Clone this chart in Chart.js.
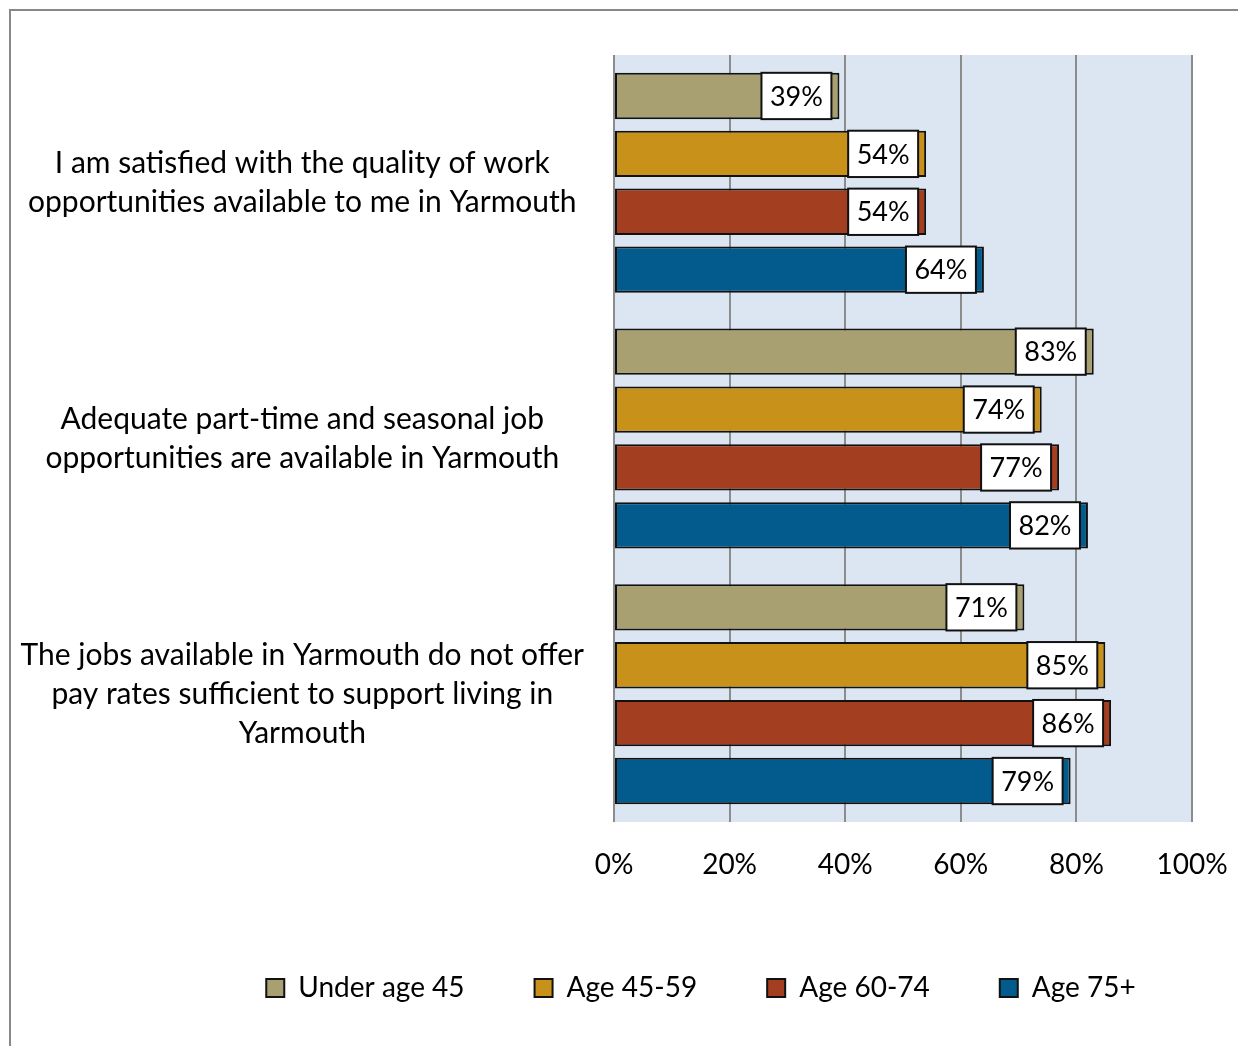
<!DOCTYPE html>
<html>
<head>
<meta charset="utf-8">
<script src="https://cdn.jsdelivr.net/npm/chart.js@4/dist/chart.umd.min.js"></script>
<style>
	html, body { margin: 0; padding: 0; background: #fff; overflow: hidden; }
	#frame {
		position: absolute; left: 9px; top: 9px;
		width: 1380px; height: 1100px;
		border: 2px solid #888;
	}
</style>
</head>
<body>
<div id="frame"><canvas id="bar-chart" width="1380" height="1100"></canvas></div>
<script>
	const categories = [
		['I am satisfied with the quality of work', 'opportunities available to me in Yarmouth'],
		['Adequate part-time and seasonal job', 'opportunities are available in Yarmouth'],
		['The jobs available in Yarmouth do not offer', 'pay rates sufficient to support living in', 'Yarmouth'],
	]
	const seriesNames = ['Under age 45', 'Age 45-59', 'Age 60-74', 'Age 75+']
	const under45 = [39, 83, 71]
	const age45to59 = [54, 74, 85]
	const age60to74 = [54, 77, 86]
	const age75plus = [64, 82, 79]
	const xTicks = [0, 20, 40, 60, 80, 100]

	const colors = ['#a8a070', '#c8911a', '#a33e20', '#035b8d']
	const FONT = 'Lato'

	// light blue plot background
	const plotBg = {
		id: 'plotBg',
		beforeDraw(chart) {
			const { ctx, chartArea: a } = chart
			ctx.save()
			ctx.fillStyle = '#dce6f2'
			ctx.fillRect(a.left, a.top, a.right - a.left, a.bottom - a.top)
			ctx.restore()
		},
	}

	// legend is centred on the whole frame, not just the padded area
	const wideLegend = {
		id: 'wideLegend',
		afterLayout(chart) {
			chart.legend.right = chart.width
			chart.legend.width = chart.width - chart.legend.left
		},
	}

	// white boxed value labels sitting just inside the end of each bar
	const valueBoxes = {
		id: 'valueBoxes',
		afterDatasetsDraw(chart) {
			const ctx = chart.ctx
			ctx.save()
			ctx.font = '27px ' + FONT
			ctx.textAlign = 'center'
			ctx.textBaseline = 'middle'
			chart.data.datasets.forEach((ds, i) => {
				chart.getDatasetMeta(i).data.forEach((bar, j) => {
					const txt = ds.data[j] + '%'
					const w = ctx.measureText(txt).width + 17
					const h = bar.height
					const right = bar.x - 8
					const top = bar.y - h / 2
					ctx.fillStyle = '#fff'
					ctx.fillRect(right - w, top, w, h)
					ctx.lineWidth = 2
					ctx.strokeStyle = '#111'
					ctx.strokeRect(right - w, top, w, h)
					ctx.fillStyle = '#000'
					ctx.fillText(txt, right - w / 2, bar.y + 1)
				})
			})
			ctx.restore()
		},
	}

	const seriesData = [under45, age45to59, age60to74, age75plus]

	new Chart(document.getElementById('bar-chart'), {
		type: 'bar',
		data: {
			labels: categories,
			datasets: seriesData.map((d, i) => ({
				label: seriesNames[i],
				data: d,
				backgroundColor: colors[i],
				borderColor: '#111',
				borderWidth: 2,
				borderSkipped: false,
				barPercentage: 0.8,
				categoryPercentage: 0.906,
			})),
		},
		options: {
			indexAxis: 'y',
			responsive: false,
			animation: false,
			layout: { padding: { top: 44, left: 0, right: 199, bottom: 99 } },
			scales: {
				x: {
					min: 0,
					max: 100,
					afterBuildTicks: (scale) => { scale.ticks = xTicks.map(v => ({ value: v })) },
					afterFit: (scale) => { scale.height = 82 },
					grid: { color: '#8c8c8c', lineWidth: 2, drawTicks: false },
					border: { display: false },
					ticks: {
						padding: 26,
						color: '#000',
						font: { family: FONT, size: 28 },
						callback: v => v + '%',
					},
				},
				y: {
					afterFit: (scale) => {
						scale.width = 603
						scale.paddingTop = 0
						scale.paddingBottom = 0
					},
					grid: { display: false },
					border: { display: false },
					ticks: {
						crossAlign: 'center',
						padding: 22,
						color: '#000',
						font: { family: FONT, size: 30, lineHeight: 1.3 },
					},
				},
			},
			plugins: {
				legend: {
					position: 'bottom',
					labels: {
						boxWidth: 18,
						boxHeight: 18,
						padding: 70,
						color: '#000',
						font: { family: FONT, size: 28 },
					},
				},
				tooltip: { enabled: false },
			},
		},
		plugins: [plotBg, wideLegend, valueBoxes],
	})
</script>
</body>
</html>
